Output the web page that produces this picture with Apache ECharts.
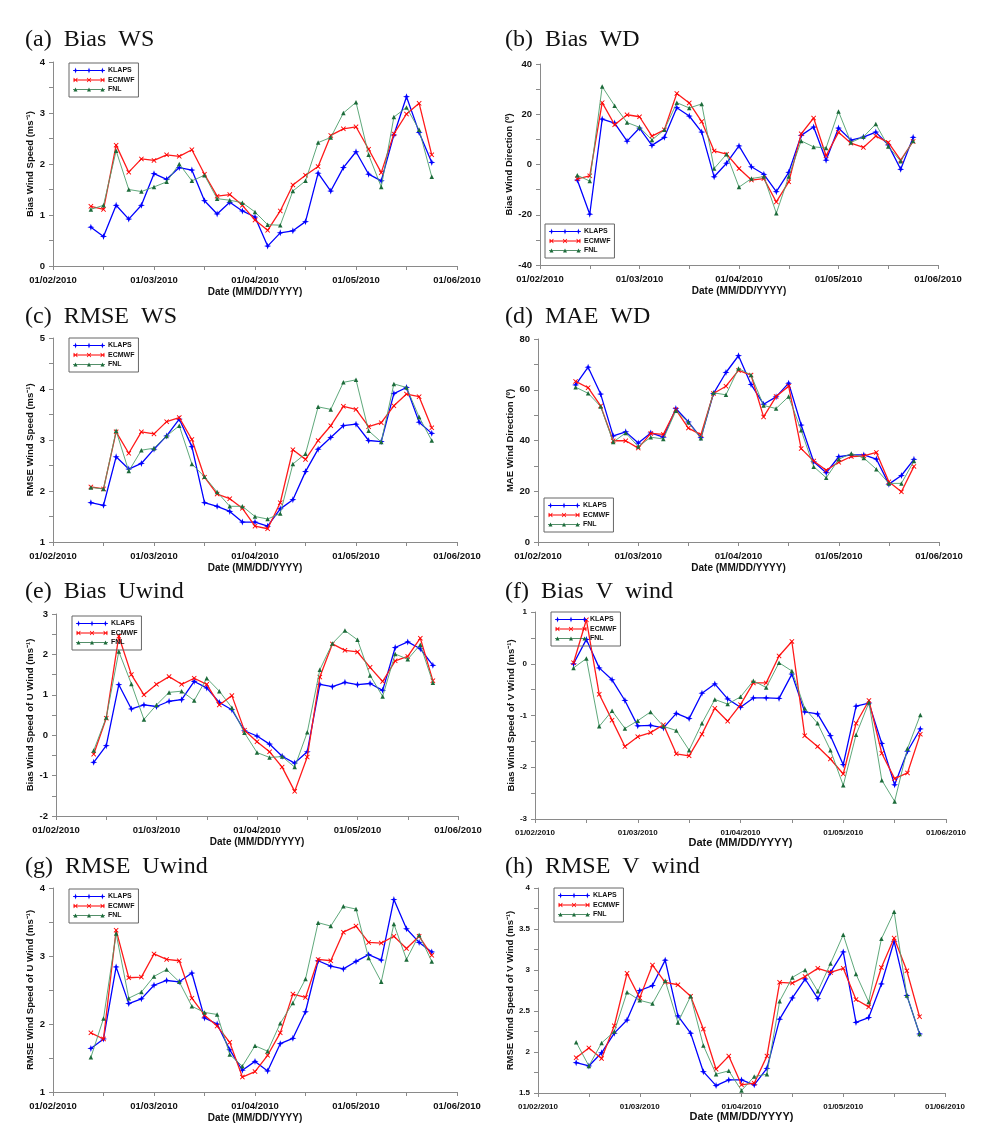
<!DOCTYPE html>
<html>
<head>
<meta charset="utf-8">
<script src="https://cdn.jsdelivr.net/npm/echarts@6/dist/echarts.min.js"></script>
<style>
html,body{margin:0;padding:0;background:#fff;}
#chart{width:990px;height:1132px;}
</style>
</head>
<body>
<div id="chart"></div>
<script>
// ---------- DATA ----------
const xTickLabels = ['01/02/2010', '01/03/2010', '01/04/2010', '01/05/2010', '01/06/2010'];
// sample positions in eighths of a month from 01/02/2010
const xSteps = [3, 4, 5, 6, 7, 8, 9, 10, 11, 12, 13, 14, 15, 16, 17, 18, 19, 20, 21, 22, 23, 24, 25, 26, 27, 28, 29, 30];
const seriesNames = ['KLAPS', 'ECMWF', 'FNL'];

// (a) Bias WS
const biasWS_KLAPS = [0.76, 0.58, 1.19, 0.92, 1.19, 1.81, 1.70, 1.93, 1.88, 1.28, 1.02, 1.25, 1.08, 0.96, 0.39, 0.65, 0.69, 0.87, 1.82, 1.47, 1.93, 2.24, 1.80, 1.67, 2.57, 3.32, 2.62, 2.03];
const biasWS_ECMWF = [1.17, 1.11, 2.37, 1.84, 2.10, 2.07, 2.18, 2.15, 2.28, 1.80, 1.37, 1.40, 1.19, 0.90, 0.70, 1.08, 1.59, 1.78, 1.95, 2.56, 2.69, 2.73, 2.29, 1.83, 2.59, 2.98, 3.19, 2.18];
const biasWS_FNL = [1.11, 1.19, 2.26, 1.50, 1.46, 1.55, 1.65, 2.00, 1.67, 1.78, 1.32, 1.29, 1.24, 1.06, 0.81, 0.80, 1.47, 1.67, 2.42, 2.52, 3.00, 3.21, 2.18, 1.55, 2.92, 3.11, 2.67, 1.75];

// (b) Bias WD
const biasWD_KLAPS = [-6.2, -19.8, 18.1, 16.5, 9.3, 14.5, 7.6, 10.8, 22.6, 19.3, 12.9, -4.9, 0.5, 7.4, -0.9, -3.9, -10.8, -3.1, 11.6, 14.9, 1.7, 14.5, 9.7, 10.9, 12.9, 7.8, -1.9, 10.8];
const biasWD_ECMWF = [-5.7, -4.5, 24.6, 15.8, 19.8, 19.0, 11.3, 13.8, 28.3, 24.5, 17.1, 5.4, 4.1, -1.6, -6.2, -5.6, -14.9, -6.9, 12.2, 18.5, 3.5, 12.8, 8.5, 6.8, 11.3, 8.8, 1.7, 9.2];
const biasWD_FNL = [-4.3, -6.6, 31.0, 23.4, 16.7, 14.8, 9.8, 13.8, 24.6, 22.5, 24.1, -1.6, 4.1, -9.0, -5.6, -4.8, -19.4, -4.8, 9.4, 7.0, 6.6, 21.1, 8.8, 11.0, 16.1, 7.2, 1.3, 9.4];

// (c) RMSE WS
const rmseWS_KLAPS = [1.77, 1.72, 2.67, 2.43, 2.54, 2.82, 3.08, 3.41, 2.87, 1.77, 1.70, 1.60, 1.39, 1.39, 1.31, 1.65, 1.83, 2.38, 2.82, 3.05, 3.28, 3.31, 2.99, 2.97, 3.91, 4.03, 3.35, 3.13];
const rmseWS_ECMWF = [2.08, 2.04, 3.16, 2.74, 3.16, 3.12, 3.36, 3.44, 3.01, 2.27, 1.94, 1.85, 1.66, 1.31, 1.26, 1.77, 2.81, 2.62, 2.99, 3.28, 3.66, 3.60, 3.26, 3.34, 3.67, 3.90, 3.85, 3.24];
const rmseWS_FNL = [2.07, 2.04, 3.18, 2.39, 2.80, 2.84, 3.08, 3.28, 2.53, 2.28, 1.98, 1.70, 1.70, 1.50, 1.45, 1.56, 2.53, 2.73, 3.65, 3.60, 4.13, 4.18, 3.18, 2.96, 4.10, 4.03, 3.45, 2.99];

// (d) MAE WD
const maeWD_KLAPS = [61.9, 68.9, 58.3, 41.8, 43.4, 39.0, 43.0, 41.3, 52.6, 47.3, 41.1, 58.5, 66.8, 73.4, 62.1, 54.3, 57.2, 62.6, 46.1, 31.6, 27.3, 33.6, 34.3, 34.3, 32.7, 22.8, 26.2, 32.6];
const maeWD_ECMWF = [63.3, 60.8, 53.6, 39.9, 39.9, 37.0, 42.8, 42.4, 52.2, 44.9, 42.3, 58.5, 61.4, 67.6, 65.8, 49.3, 57.3, 61.4, 36.8, 31.9, 28.3, 31.4, 33.7, 33.9, 35.3, 23.7, 19.8, 29.8];
const maeWD_FNL = [61.0, 58.6, 53.4, 39.4, 43.0, 37.6, 41.3, 40.6, 51.7, 47.2, 40.9, 58.8, 58.0, 68.4, 65.8, 53.8, 52.6, 57.3, 44.0, 29.7, 25.3, 32.6, 34.9, 33.1, 28.7, 23.1, 23.1, 31.9];

// (e) Bias Uwind
const biasU_KLAPS = [-0.67, -0.26, 1.25, 0.65, 0.75, 0.71, 0.84, 0.88, 1.33, 1.17, 0.81, 0.63, 0.11, -0.02, -0.22, -0.52, -0.69, -0.41, 1.26, 1.20, 1.31, 1.25, 1.28, 1.11, 2.17, 2.31, 2.14, 1.73];
const biasU_ECMWF = [-0.47, 0.42, 2.45, 1.50, 1.00, 1.26, 1.45, 1.26, 1.41, 1.26, 0.75, 0.98, 0.12, -0.16, -0.41, -0.79, -1.39, -0.54, 1.44, 2.26, 2.10, 2.06, 1.68, 1.33, 1.84, 1.95, 2.40, 1.35];
const biasU_FNL = [-0.38, 0.44, 2.07, 1.27, 0.39, 0.75, 1.06, 1.09, 0.86, 1.41, 1.09, 0.68, 0.06, -0.43, -0.55, -0.53, -0.79, 0.07, 1.62, 2.27, 2.59, 2.36, 1.48, 0.96, 2.01, 1.88, 2.24, 1.30];

// (f) Bias V wind
const biasV_KLAPS = [0.00, 0.47, -0.08, -0.31, -0.71, -1.20, -1.19, -1.24, -0.96, -1.06, -0.57, -0.39, -0.68, -0.84, -0.66, -0.66, -0.67, -0.20, -0.93, -0.97, -1.39, -1.95, -0.82, -0.76, -1.54, -2.34, -1.69, -1.26];
const biasV_ECMWF = [0.02, 0.85, -0.59, -1.09, -1.60, -1.41, -1.33, -1.18, -1.74, -1.78, -1.36, -0.86, -1.11, -0.79, -0.37, -0.37, 0.15, 0.43, -1.39, -1.60, -1.84, -2.13, -1.15, -0.71, -1.73, -2.22, -2.11, -1.36];
const biasV_FNL = [-0.08, 0.10, -1.21, -0.91, -1.25, -1.10, -0.93, -1.21, -1.29, -1.67, -1.15, -0.69, -0.78, -0.64, -0.33, -0.46, 0.02, -0.14, -0.86, -1.15, -1.67, -2.35, -1.37, -0.75, -2.25, -2.66, -1.64, -0.99];

// (g) RMSE Uwind
const rmseU_KLAPS = [1.64, 1.78, 2.84, 2.30, 2.37, 2.57, 2.64, 2.62, 2.75, 2.09, 2.00, 1.62, 1.32, 1.45, 1.31, 1.71, 1.79, 2.18, 2.93, 2.85, 2.81, 2.92, 3.02, 2.94, 3.83, 3.40, 3.20, 3.06];
const rmseU_ECMWF = [1.87, 1.78, 3.38, 2.68, 2.69, 3.03, 2.95, 2.93, 2.38, 2.13, 1.97, 1.73, 1.22, 1.30, 1.54, 1.87, 2.44, 2.39, 2.95, 2.93, 3.35, 3.44, 3.20, 3.19, 3.29, 3.11, 3.29, 3.01];
const rmseU_FNL = [1.51, 2.08, 3.33, 2.38, 2.47, 2.70, 2.80, 2.62, 2.26, 2.17, 2.14, 1.55, 1.38, 1.68, 1.60, 2.01, 2.31, 2.66, 3.49, 3.44, 3.73, 3.69, 2.97, 2.62, 3.47, 2.95, 3.31, 2.92];

// (h) RMSE V wind
const rmseV_KLAPS = [1.87, 1.83, 1.99, 2.23, 2.39, 2.75, 2.81, 3.12, 2.44, 2.23, 1.76, 1.59, 1.66, 1.66, 1.60, 1.80, 2.40, 2.66, 2.89, 2.65, 2.97, 3.22, 2.36, 2.42, 2.83, 3.35, 2.69, 2.22];
const rmseV_ECMWF = [1.93, 2.05, 1.92, 2.32, 2.96, 2.66, 3.06, 2.85, 2.82, 2.68, 2.28, 1.79, 1.95, 1.60, 1.62, 1.95, 2.85, 2.84, 2.92, 3.02, 2.97, 3.02, 2.64, 2.55, 3.03, 3.39, 2.99, 2.43];
const rmseV_FNL = [2.12, 1.83, 2.11, 2.25, 2.73, 2.63, 2.59, 2.87, 2.36, 2.68, 2.08, 1.73, 1.77, 1.53, 1.70, 1.73, 2.62, 2.91, 3.00, 2.74, 3.08, 3.43, 2.95, 2.61, 3.38, 3.71, 2.69, 2.22];

// ---------- LAYOUT / STYLE CONFIG ----------
const panels = [
  {title: '(a)  Bias  WS', yName: 'Bias Wind Speed (ms\u207B\u00B9)', data: [biasWS_KLAPS, biasWS_ECMWF, biasWS_FNL],
   grid: {left: 53, top: 62, width: 404, height: 204}, y: {min: 0, max: 4, interval: 1}, yGap: 17,
   titlePos: {left: 25, top: 28}, legendPos: {left: 69, top: 63}, small: false},
  {title: '(b)  Bias  WD', yName: 'Bias Wind Direction (\u00BA)', data: [biasWD_KLAPS, biasWD_ECMWF, biasWD_FNL],
   grid: {left: 540, top: 64, width: 398, height: 201}, y: {min: -40, max: 40, interval: 20}, yGap: 24.5,
   titlePos: {left: 505, top: 28}, legendPos: {left: 545, top: 224}, small: false},
  {title: '(c)  RMSE  WS', yName: 'RMSE Wind Speed (ms\u207B\u00B9)', data: [rmseWS_KLAPS, rmseWS_ECMWF, rmseWS_FNL],
   grid: {left: 53, top: 338, width: 404, height: 204}, y: {min: 1, max: 5, interval: 1}, yGap: 17.5,
   titlePos: {left: 25, top: 305}, legendPos: {left: 69, top: 338}, small: false},
  {title: '(d)  MAE  WD', yName: 'MAE Wind Direction (\u00BA)', data: [maeWD_KLAPS, maeWD_ECMWF, maeWD_FNL],
   grid: {left: 538, top: 339, width: 401, height: 203}, y: {min: 0, max: 80, interval: 20}, yGap: 23,
   titlePos: {left: 505, top: 305}, legendPos: {left: 544, top: 498}, small: false},
  {title: '(e)  Bias  Uwind', yName: 'Bias Wind Speed of U Wind (ms\u207B\u00B9)', data: [biasU_KLAPS, biasU_ECMWF, biasU_FNL],
   grid: {left: 56, top: 614, width: 402, height: 202}, y: {min: -2, max: 3, interval: 1}, yGap: 21,
   titlePos: {left: 25, top: 580}, legendPos: {left: 72, top: 616}, small: false},
  {title: '(f)  Bias  V  wind', yName: 'Bias Wind Speed of V Wind (ms\u207B\u00B9)', data: [biasV_KLAPS, biasV_ECMWF, biasV_FNL],
   grid: {left: 535, top: 612, width: 411, height: 207}, y: {min: -3, max: 1, interval: 1}, yGap: 18.5,
   titlePos: {left: 505, top: 580}, legendPos: {left: 551, top: 612}, small: true},
  {title: '(g)  RMSE  Uwind', yName: 'RMSE Wind Speed of U Wind (ms\u207B\u00B9)', data: [rmseU_KLAPS, rmseU_ECMWF, rmseU_FNL],
   grid: {left: 53, top: 888, width: 404, height: 204}, y: {min: 1, max: 4, interval: 1}, yGap: 18,
   titlePos: {left: 25, top: 855}, legendPos: {left: 69, top: 889}, small: false},
  {title: '(h)  RMSE  V  wind', yName: 'RMSE Wind Speed of V Wind (ms\u207B\u00B9)', data: [rmseV_KLAPS, rmseV_ECMWF, rmseV_FNL],
   grid: {left: 538, top: 888, width: 407, height: 205}, y: {min: 1.5, max: 4, interval: 0.5}, yGap: 21.5,
   titlePos: {left: 505, top: 855}, legendPos: {left: 554, top: 888}, small: true}
];

// legend icons: a line with three markers, drawn in a 32 x 7 box
function fmt(n) { return (Math.round(n * 100) / 100).toString(); }
function poly(pts) { return 'M' + pts.map(p => fmt(p[0]) + ',' + fmt(p[1])).join('L') + 'Z'; }
const markerCenters = [2.5, 16, 29.5];
const baseLine = poly([[0, 3.1], [32, 3.1], [32, 3.9], [0, 3.9]]);
function starAt(cx) { return poly([[cx, 0.5], [cx + 0.7, 2.8], [cx + 2.6, 3.5], [cx + 0.7, 4.2], [cx, 6.5], [cx - 0.7, 4.2], [cx - 2.6, 3.5], [cx - 0.7, 2.8]]); }
function crossAt(cx) {
  const b = [[0,1],[1,0],[4,3],[7,0],[8,1],[5,4],[8,7],[7,8],[4,5],[1,8],[0,7],[3,4]];
  return poly(b.map(p => [cx - 2.2 + p[0] * 4.4 / 8, 1.3 + p[1] * 4.4 / 8]));
}
function triAt(cx) { return poly([[cx, 1.5], [cx + 2, 5.3], [cx - 2, 5.3]]); }
const legendIcons = [
  'path://' + baseLine + markerCenters.map(starAt).join(''),
  'path://' + baseLine + markerCenters.map(crossAt).join(''),
  'path://' + poly([[0, 3.2], [32, 3.2], [32, 3.8], [0, 3.8]]) + markerCenters.map(triAt).join('')
];

const seriesStyles = [
  {color: '#0000ff', lineColor: '#0000ff', width: 1.3, symbol: 'path://M4,0L5,3L8,4L5,5L4,8L3,5L0,4L3,3Z', size: 7},
  {color: '#ff0000', lineColor: '#ff1a1a', width: 1.3, symbol: 'path://M0,1L1,0L4,3L7,0L8,1L5,4L8,7L7,8L4,5L1,8L0,7L3,4Z', size: 5},
  {color: '#1c6b3a', lineColor: '#4d9e6c', width: 0.9, symbol: 'triangle', size: 4.5}
];

const axisGrey = '#8a8a8a';
const option = {
  animation: false,
  backgroundColor: '#ffffff',
  title: [], legend: [], grid: [], xAxis: [], yAxis: [], series: []
};

panels.forEach((p, i) => {
  option.title.push({
    text: p.title, left: p.titlePos.left, top: p.titlePos.top, padding: 0,
    textStyle: {fontFamily: 'Liberation Serif, DejaVu Serif, serif', fontWeight: 'normal', fontSize: 24, color: '#111'}
  });
  option.legend.push({
    data: seriesNames.map((n, s) => ({name: n, icon: legendIcons[s]})),
    orient: 'vertical', left: p.legendPos.left, top: p.legendPos.top,
    borderColor: '#666', borderWidth: 1, padding: [4, 4, 4, 4], itemGap: 2.5,
    itemWidth: 32, itemHeight: 7, selectedMode: false,
    textStyle: {fontFamily: 'Liberation Sans, Arial, sans-serif', fontWeight: 'bold', fontSize: 7, color: '#111', padding: [0, 0, 0, -2]}
  });
  option.grid.push(Object.assign({containLabel: false}, p.grid));
  const labelFont = p.small
    ? {fontFamily: 'Liberation Sans Narrow, Liberation Sans, Arial, sans-serif', fontSize: 8}
    : {fontFamily: 'Liberation Sans, Arial, sans-serif', fontSize: 9.5};
  option.xAxis.push({
    type: 'value', gridIndex: i, min: 0, max: 32, interval: 8,
    name: 'Date (MM/DD/YYYY)', nameLocation: 'middle', nameGap: p.small ? 18 : 21,
    nameTextStyle: {fontFamily: 'Liberation Sans, Arial, sans-serif', fontWeight: 'bold', fontSize: p.small ? 11 : 10, color: '#111'},
    axisLine: {show: true, onZero: false, lineStyle: {color: axisGrey, width: 1}},
    axisTick: {show: true, length: 4, lineStyle: {color: axisGrey}},
    minorTick: {show: true, splitNumber: 2, length: 4, lineStyle: {color: axisGrey}},
    splitLine: {show: false},
    axisLabel: Object.assign({color: '#111', fontWeight: 'bold', margin: p.small ? 10 : 9, showMinLabel: true, showMaxLabel: true,
      formatter: v => xTickLabels[Math.round(v / 8)] || ''}, labelFont)
  });
  option.yAxis.push({
    type: 'value', gridIndex: i, min: p.y.min, max: p.y.max, interval: p.y.interval,
    name: p.yName, nameLocation: 'middle', nameGap: p.yGap, nameRotate: 90,
    nameTextStyle: {fontFamily: 'Liberation Sans, Arial, sans-serif', fontWeight: 'bold', fontSize: 9.5, color: '#111'},
    axisLine: {show: true, onZero: false, lineStyle: {color: axisGrey, width: 1}},
    axisTick: {show: true, length: 4, lineStyle: {color: axisGrey}},
    minorTick: {show: true, splitNumber: 2, length: 4, lineStyle: {color: axisGrey}},
    splitLine: {show: false},
    axisLabel: Object.assign({color: '#111', fontWeight: 'bold', margin: 8}, labelFont)
  });
  p.data.forEach((vals, s) => {
    const st = seriesStyles[s];
    option.series.push({
      type: 'line', name: seriesNames[s], xAxisIndex: i, yAxisIndex: i,
      data: xSteps.map((x, k) => [x, vals[k]]),
      symbol: st.symbol, symbolSize: st.size, showSymbol: true,
      lineStyle: {color: st.lineColor, width: st.width},
      itemStyle: {color: st.color},
      z: 2 + s
    });
  });
});

const chart = echarts.init(document.getElementById('chart'), null, {renderer: 'canvas'});
chart.setOption(option);
</script>
</body>
</html>
